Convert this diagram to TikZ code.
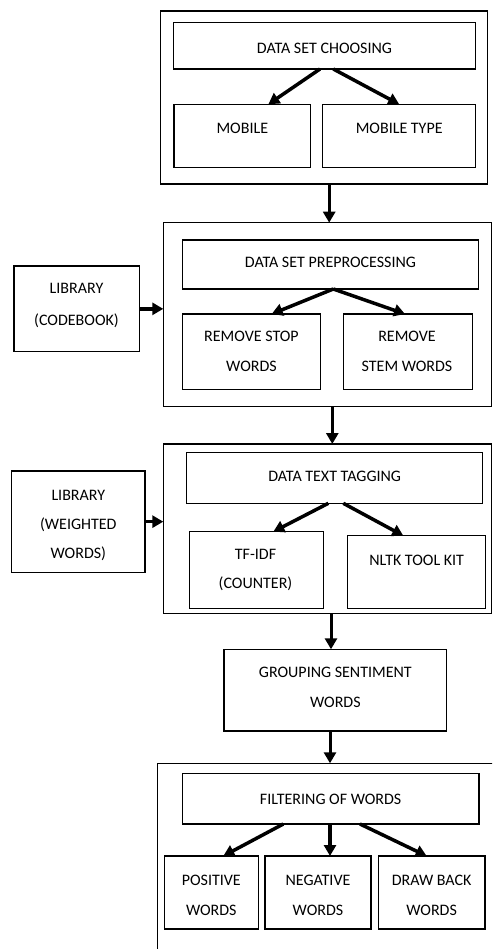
\documentclass[tikz,border=0pt]{standalone}
\usepackage{fontspec}
\setmainfont{Carlito}
\usetikzlibrary{arrows.meta}
\begin{document}
\begin{tikzpicture}[x=1pt,y=-1pt,
  box/.style={draw,line width=1.3pt,inner sep=0pt,outer sep=0pt},
  txt/.style={font=\fontsize{16}{30}\selectfont,align=center,inner sep=0pt},
  arr/.style={line width=3.5pt,-{Triangle[length=11pt,width=12pt]}},
  varr/.style={line width=3pt,-{Triangle[length=11pt,width=12pt]}}]
\useasboundingbox (0,0) rectangle (492,949);
\clip (0,0) rectangle (492,949);
\fill[white] (0,0) rectangle (492,949);
% block 1
\node[box,minimum width=327pt,minimum height=173pt] (outer1) at (324.2,97.5) {};
\node[box,minimum width=302.4pt,minimum height=46.3pt] (choose) at (324.5,45.85) {};
\node[box,minimum width=136.7pt,minimum height=63pt] (mobile) at (242.35,135.8) {};
\node[box,minimum width=153pt,minimum height=63pt] (mtype) at (399.2,135.8) {};
\node[txt] (tchoose) at (324.5,48.3) {DATA SET CHOOSING};
\node[txt] (tmobile) at (242.3,128.3) {MOBILE};
\node[txt] (tmtype) at (399.2,128.3) {MOBILE TYPE};
% block 2
\node[box,minimum width=328.2pt,minimum height=184pt] (outer2) at (327.4,314.7) {};
\node[box,minimum width=296.4pt,minimum height=49pt] (prep) at (330.5,264.5) {};
\node[box,minimum width=138.4pt,minimum height=75.3pt] (stop) at (251.5,351.65) {};
\node[box,minimum width=129.4pt,minimum height=75.3pt] (stem) at (408,351.65) {};
\node[box,minimum width=125.3pt,minimum height=85.7pt] (lib1) at (76.65,308.85) {};
\node[txt] (tprep) at (330.5,262.7) {DATA SET PREPROCESSING};
\node[txt] (tstop) at (251.5,351.7) {REMOVE STOP\\WORDS};
\node[txt] (tstem) at (407,351.7) {REMOVE\\STEM WORDS};
\node[txt,font=\fontsize{16}{32}\selectfont] (tlib1) at (76.5,305.5) {LIBRARY\\(CODEBOOK)};
% block 3
\node[box,minimum width=328.2pt,minimum height=169.3pt] (outer3) at (327.4,528.65) {};
\node[box,minimum width=296pt,minimum height=51pt] (tag) at (334.7,477.8) {};
\node[box,minimum width=134pt,minimum height=76.6pt] (tfidf) at (256.3,570) {};
\node[box,minimum width=138pt,minimum height=72.6pt] (nltk) at (416.7,572) {};
\node[box,minimum width=133.3pt,minimum height=101.3pt] (lib2) at (78.35,521.65) {};
\node[txt] (ttag) at (334.7,476.7) {DATA TEXT TAGGING};
\node[txt,font=\fontsize{16}{29.3}\selectfont] (ttfidf) at (255.5,570.3) {TF-IDF\\(COUNTER)};
\node[txt] (tnltk) at (416.7,560.7) {NLTK TOOL KIT};
\node[txt,font=\fontsize{16}{28.7}\selectfont] (tlib2) at (78.35,525.3) {LIBRARY\\(WEIGHTED\\WORDS)};
% grouping
\node[box,minimum width=222.7pt,minimum height=81.7pt] (group) at (335.35,690.15) {};
\node[txt,font=\fontsize{16}{29.6}\selectfont] (tgroup) at (335.35,687.5) {GROUPING SENTIMENT\\WORDS};
% block 5
\node[box,minimum width=362.7pt,minimum height=226.7pt] (outer5) at (338.65,876.65) {};
\node[box,minimum width=296.7pt,minimum height=50.7pt] (filter) at (330.65,798.65) {};
\node[box,minimum width=94pt,minimum height=73pt] (pos) at (211.3,892.5) {};
\node[box,minimum width=106pt,minimum height=73pt] (neg) at (318,892.5) {};
\node[box,minimum width=106.7pt,minimum height=73pt] (drawb) at (431.65,892.5) {};
\node[txt] (tfilter) at (330.65,799) {FILTERING OF WORDS};
\node[txt] (tpos) at (211.3,895) {POSITIVE\\WORDS};
\node[txt] (tneg) at (318,895) {NEGATIVE\\WORDS};
\node[txt] (tdrawb) at (431.65,895) {DRAW BACK\\WORDS};
% arrows
\draw[arr] ([xshift=-4.5pt]choose.south) -- ([xshift=26pt]mobile.north);
\draw[arr] ([xshift=8.8pt]choose.south) -- (mtype.north);
\draw[varr] ([xshift=5pt]outer1.south) -- ([xshift=5pt]outer1.south |- outer2.north);
\draw[arr] ([xshift=2.8pt]prep.south) -- ([xshift=20.2pt]stop.north);
\draw[arr] ([xshift=2.8pt]prep.south) -- ([xshift=-3pt]stem.north);
\draw[arr] (lib1.east) -- (lib1.east -| outer2.west);
\draw[varr] ([xshift=4.9pt]outer2.south) -- ([xshift=4.9pt]outer2.south |- outer3.north);
\draw[arr] ([xshift=-6.4pt]tag.south) -- ([xshift=17pt]tfidf.north);
\draw[arr] ([xshift=8.6pt]tag.south) -- ([xshift=-13.4pt]nltk.north);
\draw[arr] (lib2.east) -- (lib2.east -| outer3.west);
\draw[varr] ([xshift=3.6pt]outer3.south) -- ([xshift=3.6pt]outer3.south |- group.north);
\draw[varr] ([xshift=-5.35pt]group.south) -- ([xshift=-5.35pt]group.south |- outer5.north);
\draw[arr] ([xshift=-47.35pt]filter.south) -- ([xshift=12pt]pos.north);
\draw[arr] ([xshift=-0.65pt]filter.south) -- ([xshift=12pt]neg.north);
\draw[arr] ([xshift=29.35pt]filter.south) -- ([xshift=-5pt]drawb.north);
\end{tikzpicture}
\end{document}
